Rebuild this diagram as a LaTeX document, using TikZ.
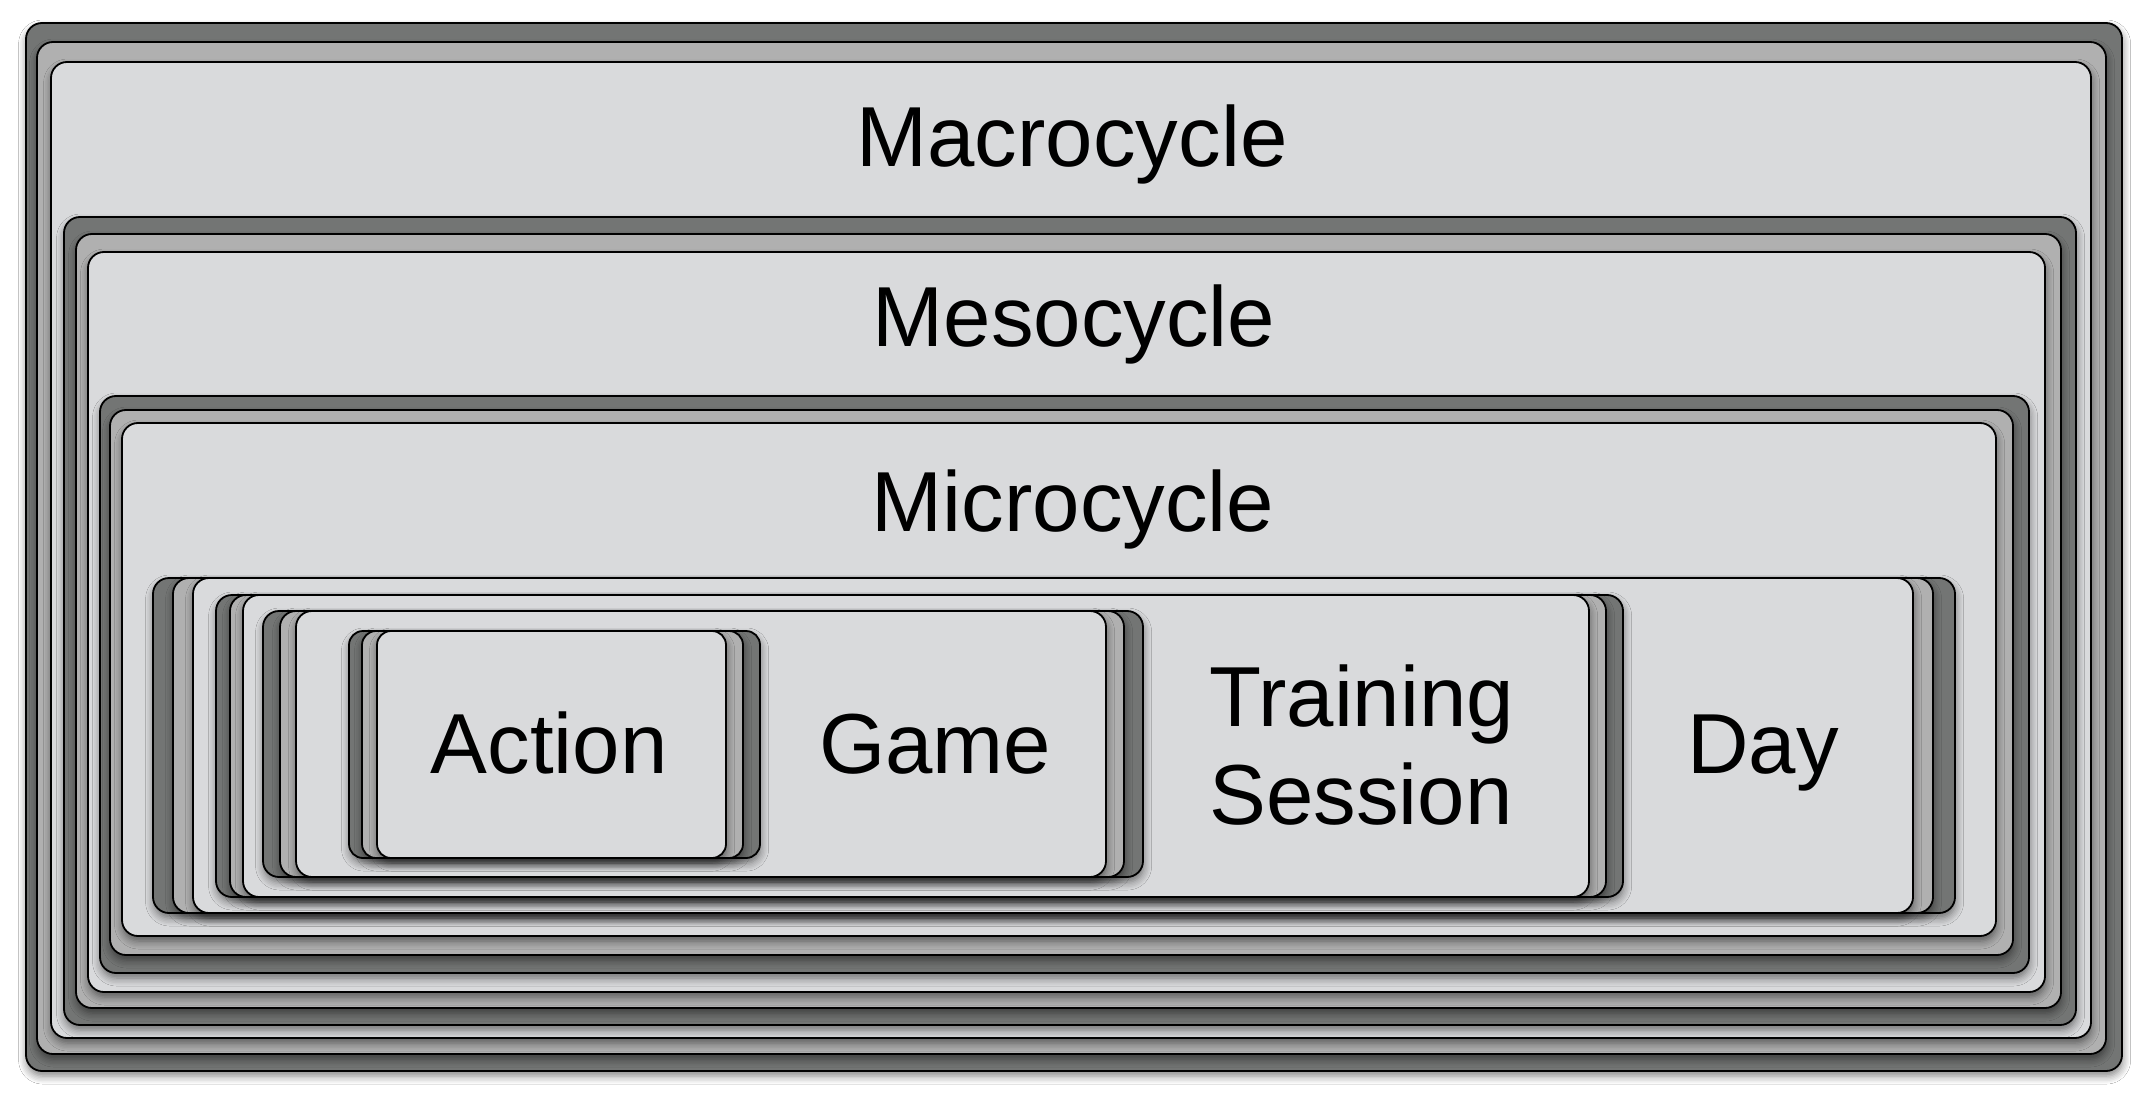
\documentclass[tikz,border=0pt]{standalone}
\usepackage{fontspec}
\setmainfont{Liberation Sans}
\usetikzlibrary{shadows.blur}
\definecolor{cdark}{RGB}{115,117,116}
\definecolor{cmid}{RGB}{176,176,176}
\definecolor{clight}{RGB}{217,218,220}
\tikzset{
  card/.style={draw=black, line width=0.9pt, rounded corners=8pt,
    blur shadow={shadow xshift=0.3pt, shadow yshift=-2.5pt, shadow blur radius=4pt, shadow blur steps=6, shadow opacity=50}},
  dk/.style={card, fill=cdark},
  md/.style={card, fill=cmid},
  lt/.style={card, fill=clight},
  lbl/.style={font=\fontsize{42.6}{49}\selectfont, inner sep=0pt, anchor=base},
}
\begin{document}
\begin{tikzpicture}[x=0.5pt,y=-0.5pt]
\useasboundingbox[fill=white] (0,0) rectangle (2139,1096);
% Macrocycle
\draw[dk] (26,23) rectangle (2122,1071);
\draw[md] (37,42) rectangle (2106,1054);
\draw[lt] (51,62) rectangle (2091,1038);
\node[lbl] (macro) at (1072,167) {Macrocycle};
% Mesocycle
\draw[dk] (64,217) rectangle (2076,1025);
\draw[md] (76,234) rectangle (2061,1008);
\draw[lt] (88,252) rectangle (2045,992);
\node[lbl] (meso) at (1074,346) {Mesocycle};
% Microcycle
\draw[dk] (100,396) rectangle (2029,973);
\draw[md] (110,410) rectangle (2013,955);
\draw[lt] (122,423) rectangle (1996,936);
\node[lbl] (micro) at (1073,531) {Microcycle};
% Day
\draw[dk] (153,578) rectangle (1955,913);
\draw[md] (173,578) rectangle (1933,913);
\draw[lt] (193,578) rectangle (1913,913);
\node[lbl] (day) at (1763,773) {Day};
% Training Session
\draw[dk] (216,595) rectangle (1623,897);
\draw[md] (230,595) rectangle (1606,897);
\draw[lt] (243,595) rectangle (1589,897);
\node[lbl, anchor=base west, align=left] (train) at (1209,824) {Training\\Session};
% Game
\draw[dk] (263,611) rectangle (1143,877);
\draw[md] (280,611) rectangle (1124,877);
\draw[lt] (296,611) rectangle (1106,877);
\node[lbl] (game) at (935,773) {Game};
% Action
\draw[dk, rounded corners=7pt] (349,631) rectangle (760,858);
\draw[md, rounded corners=7pt] (362,631) rectangle (743,858);
\draw[lt, rounded corners=7pt] (377,631) rectangle (726,858);
\node[lbl] (action) at (549,773) {Action};
\end{tikzpicture}
\end{document}
